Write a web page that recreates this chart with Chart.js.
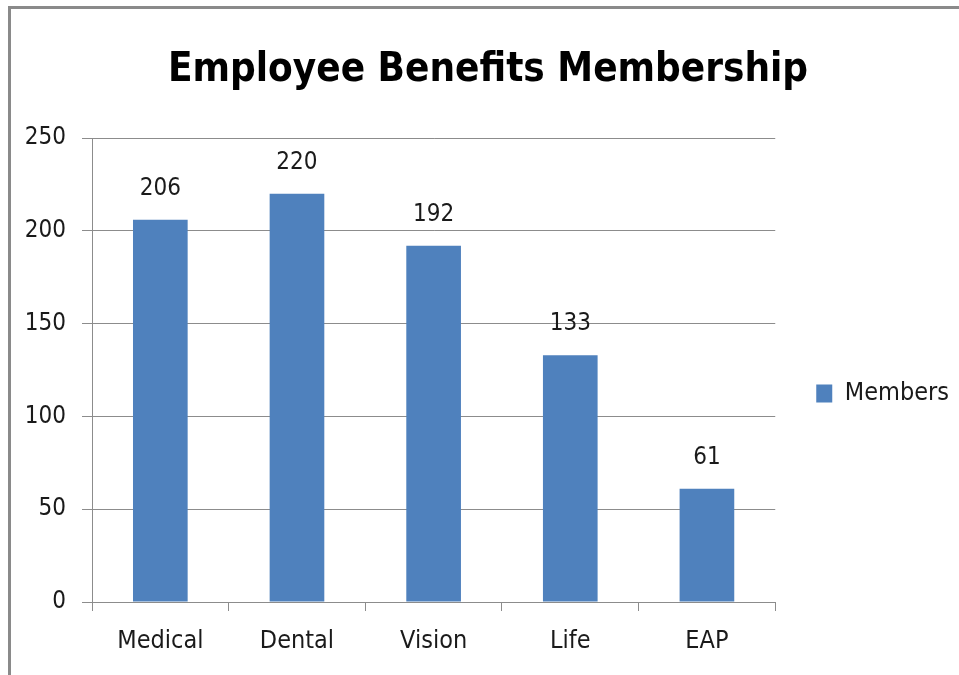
<!DOCTYPE html>
<html>
<head>
<meta charset="utf-8">
<title>Employee Benefits Membership</title>
<script src="https://cdn.jsdelivr.net/npm/chart.js@4.4.1/dist/chart.umd.min.js"></script>
<style>
  html, body { margin: 0; padding: 0; background: #fff; overflow: hidden; }
  #wrap { position: relative; width: 959px; height: 675px; }
  #frame {
    position: absolute; left: 8px; top: 6px; width: 1000px; height: 700px;
    border-left: 3px solid #8a8a8a; border-top: 3px solid #8a8a8a;
    pointer-events: none;
  }
  canvas { position: absolute; left: 0; top: 0; }
</style>
</head>
<body>
<div id="wrap">
  <canvas id="bar-chart" width="959" height="675"></canvas>
  <div id="frame"></div>
</div>
<script>
var categories = ['Medical', 'Dental', 'Vision', 'Life', 'EAP'];
var members = [206, 220, 192, 133, 61];
var yTicks = [0, 50, 100, 150, 200, 250];

var fontFamily = "'DejaVu Sans Condensed', 'DejaVu Sans', sans-serif";
var textColor = '#1a1a1a';
var gridColor = '#8c8c8c';
var barColor = '#4f81bd';

Chart.defaults.font.family = fontFamily;
Chart.defaults.color = textColor;

// numbers above each bar
var valueLabels = {
    id: 'valueLabels',
    afterDatasetsDraw: function (chart) {
        var ctx = chart.ctx;
        ctx.save();
        ctx.font = '24px ' + fontFamily;
        ctx.fillStyle = textColor;
        ctx.textAlign = 'center';
        ctx.textBaseline = 'middle';
        chart.getDatasetMeta(0).data.forEach(function (bar, i) {
            ctx.fillText(String(members[i]), bar.x, bar.y - 31);
        });
        ctx.restore();
    }
};

// push the legend down, it sits below the middle of the plot
var legendOffset = {
    id: 'legendOffset',
    afterLayout: function (chart) {
        chart.legend.top += 56;
        chart.legend.bottom += 56;
    }
};

var barConfig = {
    type: 'bar',
    data: {
        labels: categories,
        datasets: [{
            label: 'Members',
            data: members,
            backgroundColor: barColor,
            borderWidth: 0,
            categoryPercentage: 1,
            barPercentage: 0.4
        }]
    },
    options: {
        responsive: false,
        animation: false,
        layout: {
            padding: { left: 17, top: 0, right: 0, bottom: 0 }
        },
        plugins: {
            title: {
                display: true,
                text: 'Employee Benefits Membership',
                color: '#000',
                font: { size: 40, weight: 'bold', lineHeight: 1.2 },
                padding: { top: 47, bottom: 43 }
            },
            legend: {
                position: 'right',
                labels: {
                    boxWidth: 16,
                    boxHeight: 18,
                    padding: 8,
                    color: textColor,
                    font: { size: 25 }
                }
            },
            tooltip: { enabled: false }
        },
        scales: {
            x: {
                grid: {
                    display: true,
                    drawOnChartArea: false,
                    drawTicks: true,
                    tickLength: 9,
                    color: gridColor,
                    offset: true
                },
                border: { display: true, color: gridColor },
                ticks: { padding: 15, font: { size: 25 }, color: textColor },
                afterFit: function (scale) { scale.height = 73; }
            },
            y: {
                min: yTicks[0],
                max: yTicks[yTicks.length - 1],
                grid: {
                    color: gridColor,
                    tickLength: 10
                },
                border: { display: true, color: gridColor },
                ticks: {
                    stepSize: yTicks[1] - yTicks[0],
                    padding: 16,
                    font: { size: 24 },
                    color: textColor
                },
                afterFit: function (scale) { scale.width = 75; }
            },
            gap: {
                position: 'right',
                grid: { display: false },
                border: { display: false },
                ticks: { display: false },
                afterFit: function (scale) { scale.width = 33; }
            }
        }
    },
    plugins: [valueLabels, legendOffset]
};

var barContext = document.getElementById('bar-chart').getContext('2d');
window.myBar = new Chart(barContext, barConfig);
</script>
</body>
</html>
